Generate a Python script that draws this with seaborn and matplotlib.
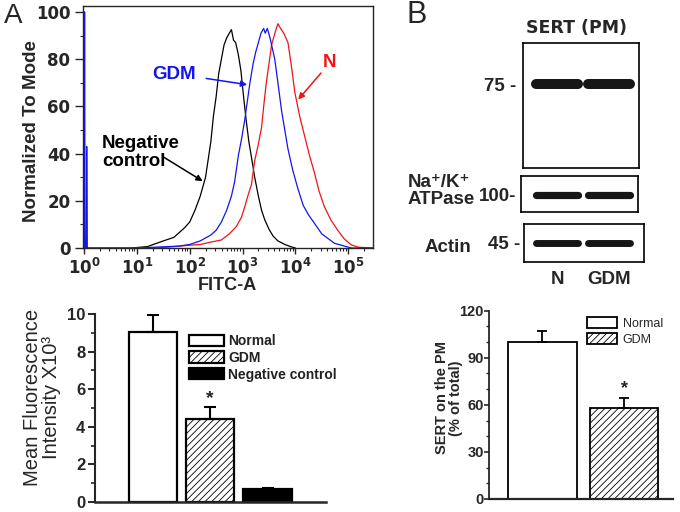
import numpy as np
import pandas as pd
import matplotlib
matplotlib.use("Agg")
import matplotlib.pyplot as plt
from matplotlib import font_manager
from matplotlib.ticker import MultipleLocator, NullFormatter
import seaborn as sns


# ── Data ──────────────────────────────────────────────────────────────────────

# Panel A, flow cytometry histograms: log10(FITC-A) and % of mode
neg_log = [0.90, 1.20, 1.50, 1.70, 1.90, 2.00, 2.10, 2.20, 2.30, 2.40, 2.45, 2.50,
           2.55, 2.60, 2.65, 2.70, 2.75, 2.79, 2.83, 2.87, 2.92, 2.97, 3.02, 3.07,
           3.12, 3.18, 3.23, 3.30, 3.36, 3.42, 3.50, 3.58, 3.67, 3.80, 3.92, 4.00]
neg_pct = [0.0, 0.6, 3.0, 4.5, 8.5, 11, 16, 22, 30, 45, 56, 64,
           74, 80, 86, 89, 91, 92.5, 88, 87, 82, 75, 64, 54,
           45, 37, 30, 22, 16, 12, 8, 5, 3, 1.5, 0.5, 0.0]

gdm_log = [0.00, 0.01, 0.02, 0.045, 0.05, 0.06, 1.00, 1.50, 1.80, 2.00, 2.20, 2.40,
           2.50, 2.60, 2.70, 2.79, 2.85, 2.92, 2.98, 3.04, 3.09, 3.14, 3.20, 3.25,
           3.30, 3.35, 3.40, 3.43, 3.47, 3.52, 3.57, 3.61, 3.67, 3.74, 3.80, 3.86,
           3.95, 4.05, 4.15, 4.25, 4.36, 4.50, 4.62, 4.74, 4.90, 5.06, 5.47]
gdm_pct = [0, 100, 0, 0, 43, 0, 0, 0.5, 0.8, 1.5, 3, 5.5,
           7.5, 11, 16, 22, 28, 39, 46, 54, 62, 70, 78, 83,
           87, 91, 93, 91, 93, 89, 84, 80, 70, 58, 50, 42,
           33, 25, 18, 14, 10.5, 6, 4, 2, 1, 0, 0]

n_log = [0.00, 0.01, 0.03, 1.30, 1.60, 1.90, 2.20, 2.40, 2.60, 2.75, 2.88, 2.98,
         3.05, 3.10, 3.17, 3.23, 3.30, 3.36, 3.41, 3.45, 3.50, 3.55, 3.60, 3.64,
         3.67, 3.72, 3.78, 3.86, 3.92, 3.99, 4.08, 4.18, 4.27, 4.36, 4.45, 4.55,
         4.67, 4.80, 4.92, 5.06, 5.20, 5.47]
n_pct = [0, 8, 0, 0, 0.4, 1, 1.5, 2.5, 3.4, 6, 9, 13,
         18, 22, 27, 37, 44, 51, 62, 70, 78, 86, 90, 93,
         95, 93, 91, 87, 78, 66, 56, 47, 39, 32, 24, 17.5,
         12, 7.6, 4, 1.3, 0.3, 0]

fitc_decades = [0, 1, 2, 3, 4, 5]
mode_ticks = [0, 20, 40, 60, 80, 100]

# Panel A, mean fluorescence intensity (x10^3)
mfi_groups = ["Normal", "GDM", "Negative control"]
mfi_mean = [9.05, 4.42, 0.67]
mfi_sem = [0.90, 0.65, 0.05]

# Panel B, western blots and SERT on the plasma membrane
blot_lanes = ["N", "GDM"]
blot_names = ["SERT (PM)", "Na\u207a/K\u207a\nATPase", "Actin"]
blot_kda = ["75 -", "100-", "45 -"]

sert_groups = ["Normal", "GDM"]
sert_mean = [100.0, 57.8]
sert_sem = [7.3, 6.8]


# ── Style ─────────────────────────────────────────────────────────────────────

W, H = 680, 512
sns.set_style("ticks")
plt.rcParams["font.family"] = ["Liberation Sans", "DejaVu Sans"]
plt.rcParams["hatch.linewidth"] = 0.6
plt.rcParams["axes.linewidth"] = 1.0

_names = {f.name for f in font_manager.fontManager.ttflist}
NARROW = "Liberation Sans Narrow" if "Liberation Sans Narrow" in _names else "Liberation Sans"

BLUE = "#1414f0"
RED = "#f01414"


def px_axes(fig, x0, y0, x1, y1):
    """Axes placed by pixel box (top-left origin)."""
    return fig.add_axes([x0 / W, 1 - y1 / H, (x1 - x0) / W, (y1 - y0) / H])


def px_text(fig, x, y, s, **kw):
    kw.setdefault("ha", "center")
    kw.setdefault("va", "center")
    return fig.text(x / W, 1 - y / H, s, **kw)


fig = plt.figure(figsize=(W / 100, H / 100), dpi=100)


# ── A: histogram ──────────────────────────────────────────────────────────────

ax = px_axes(fig, 83, 6, 373, 248)
ax.set_xscale("log")
for logs, vals, col in [(neg_log, neg_pct, "black"),
                        (n_log, n_pct, RED),
                        (gdm_log, gdm_pct, BLUE)]:
    sns.lineplot(x=10.0 ** np.array(logs), y=vals, color=col, lw=0.9,
                 estimator=None, sort=False, ax=ax)
ax.set_xlim(10 ** -0.02, 10 ** 5.47)
ax.set_ylim(0, 102.5)
ax.set_xticks([10.0 ** d for d in fitc_decades])
ax.set_xticklabels([r"$\mathbf{10^{%d}}$" % d for d in fitc_decades], fontsize=12)
ax.xaxis.set_minor_formatter(NullFormatter())
ax.set_yticks(mode_ticks)
ax.set_yticklabels([str(v) for v in mode_ticks], fontsize=12,
                   fontweight="bold", family="DejaVu Sans")
ax.yaxis.set_minor_locator(MultipleLocator(10))
ax.tick_params(axis="x", which="major", length=4.5, width=1, pad=2)
ax.tick_params(axis="x", which="minor", length=2.5, width=0.8)
ax.tick_params(axis="y", which="major", length=6, width=1, pad=3)
ax.tick_params(axis="y", which="minor", length=2.5, width=0.8)
for sp in ax.spines.values():
    sp.set_linewidth(1.0)

ax.annotate("", xy=(10 ** 3.14, 69), xytext=(10 ** 2.26, 72),
            arrowprops=dict(arrowstyle="-|>", color=BLUE, lw=1.1, mutation_scale=9))
ax.annotate("", xy=(10 ** 4.02, 62), xytext=(10 ** 4.52, 75),
            arrowprops=dict(arrowstyle="-|>", color=RED, lw=1.1, mutation_scale=9))
ax.annotate("", xy=(10 ** 2.29, 27.7), xytext=(10 ** 1.47, 39),
            arrowprops=dict(arrowstyle="-|>", color="black", lw=1.1, mutation_scale=9))
ax.text(10 ** 1.71, 73.3, "GDM", color=BLUE, fontsize=13.5, fontweight="bold",
        ha="center", va="center")
ax.text(10 ** 4.64, 78.4, "N", color=RED, fontsize=13.5, fontweight="bold",
        ha="center", va="center")
ax.text(10 ** 0.34, 40.5, "Negative\ncontrol", color="black", fontsize=13.5,
        fontweight="bold", ha="left", va="center", linespacing=1.05)

px_text(fig, 32, 131, "Normalized To Mode", rotation=90, fontsize=13.5, fontweight="bold")
px_text(fig, 227, 286, "FITC-A", fontsize=13, fontweight="bold")


# ── A: mean fluorescence bars ─────────────────────────────────────────────────

ax = px_axes(fig, 95, 314, 326, 502)
df = pd.DataFrame({"group": mfi_groups, "mean": mfi_mean})
sns.barplot(data=df, x="group", y="mean", ax=ax, width=0.84, errorbar=None,
            color="white", edgecolor="black", linewidth=1.6)
bars = ax.patches[:3]
bars[0].set_facecolor("white")
bars[1].set_facecolor("white")
bars[1].set_hatch("/////")
bars[2].set_facecolor("black")
ax.errorbar(range(3), mfi_mean, yerr=[np.zeros(3), mfi_sem], fmt="none",
            ecolor="black", elinewidth=1.5, capsize=4, capthick=1.5)
ax.text(1, mfi_mean[1] + mfi_sem[1] + 0.45, "*", ha="center", va="center",
        fontsize=14, fontweight="bold")
ax.set_xlim(-1.01, 3.02)
ax.set_ylim(0, 10)
ax.set_xticks([])
ax.set_xlabel("")
ax.set_ylabel("")
ax.yaxis.set_major_locator(MultipleLocator(2))
ax.yaxis.set_minor_locator(MultipleLocator(1))
ax.tick_params(axis="y", which="major", length=5, width=1.4, pad=2, labelsize=12)
ax.tick_params(axis="y", which="minor", length=3, width=1.2)
for lbl in ax.get_yticklabels():
    lbl.set_fontweight("bold")
sns.despine(ax=ax)
ax.spines["left"].set_linewidth(1.5)
ax.spines["bottom"].set_linewidth(1.8)

fs = 10
fs_px = fs * 100 / 72
ax.legend(bars, mfi_groups, loc="upper left", bbox_to_anchor=(189 / W, 1 - 334 / H),
          bbox_transform=fig.transFigure, frameon=False, borderpad=0, borderaxespad=0,
          handlelength=35 / fs_px, handleheight=12 / fs_px, handletextpad=0.3,
          labelspacing=0.2, prop=dict(size=fs, weight="bold"), labelcolor="#222222")

px_text(fig, 42, 397, "Mean Fluorescence\nIntensity X10\u00b3", rotation=90,
        fontsize=14.5, linespacing=1.0)


# ── B: western blots ──────────────────────────────────────────────────────────

lane_x0, lane_dx = 557, 52          # pixel centre of lane N, lane spacing
blot_boxes = [(522.7, 43.3, 639.3, 168.3),
              (520.7, 175.7, 638.3, 212.3),
              (524.0, 224.0, 644.0, 261.7)]
band_frac = [0.674, 0.473, 0.504]
band_width = [7.2, 5.2, 5.0]

for i, (box, yb, lw) in enumerate(zip(blot_boxes, band_frac, band_width)):
    x0, y0, x1, y1 = box
    bax = px_axes(fig, *box)
    for j, lane in enumerate(blot_lanes):
        bax.plot([j - 0.40, j + 0.40], [yb, yb], color="#161616", lw=lw,
                 solid_capstyle="round")
    bax.set_xlim((x0 - lane_x0) / lane_dx, (x1 - lane_x0) / lane_dx)
    bax.set_ylim(0, 1)
    bax.set_yticks([yb])
    bax.set_yticklabels([blot_kda[i]], fontsize=13.5, fontweight="bold")
    bax.tick_params(axis="y", length=0, pad=3 if i else 5)
    if i == len(blot_boxes) - 1:
        bax.set_xticks(range(len(blot_lanes)))
        bax.set_xticklabels(blot_lanes, fontsize=13.5, fontweight="bold")
        bax.tick_params(axis="x", length=0, pad=7)
    else:
        bax.set_xticks([])
    for sp in bax.spines.values():
        sp.set_visible(True)
        sp.set_linewidth(1.2)
        sp.set_color("black")

px_text(fig, 577, 28, blot_names[0], fontsize=12.5, fontweight="bold",
        family=["DejaVu Sans"])
px_text(fig, 408, 191, blot_names[1], ha="left", fontsize=13.5, fontweight="bold",
        linespacing=1.0)
px_text(fig, 425, 247, blot_names[2], ha="left", fontsize=13.5, fontweight="bold")


# ── B: SERT on the PM bars ────────────────────────────────────────────────────

ax = px_axes(fig, 489.3, 310.7, 673, 499)
df = pd.DataFrame({"group": sert_groups, "mean": sert_mean})
sns.barplot(data=df, x="group", y="mean", ax=ax, width=0.837, errorbar=None,
            color="white", edgecolor="black", linewidth=1.3)
bars = ax.patches[:2]
bars[0].set_facecolor("white")
bars[1].set_facecolor("white")
bars[1].set_hatch("/////")
ax.errorbar(range(2), sert_mean, yerr=[np.zeros(2), sert_sem], fmt="none",
            ecolor="black", elinewidth=1.3, capsize=3.5, capthick=1.3)
ax.text(1, sert_mean[1] + sert_sem[1] + 6, "*", ha="center", va="center",
        fontsize=13, fontweight="bold")
ax.set_xlim(-0.651, 1.597)
ax.set_ylim(0, 120)
ax.set_xticks([])
ax.set_xlabel("")
ax.set_ylabel("")
ax.yaxis.set_major_locator(MultipleLocator(30))
ax.yaxis.set_minor_locator(MultipleLocator(10))
ax.tick_params(axis="y", which="major", length=3.5, width=1.2, pad=0.5, labelsize=10.5)
ax.tick_params(axis="y", which="minor", length=2, width=1.0)
for lbl in ax.get_yticklabels():
    lbl.set_fontweight("bold")
    lbl.set_family([NARROW, "DejaVu Sans"])
sns.despine(ax=ax)
ax.spines["left"].set_linewidth(1.3)
ax.spines["bottom"].set_linewidth(1.6)

fs = 10.5 if NARROW != "Liberation Sans" else 9
fs_px = fs * 100 / 72
ax.legend(bars, sert_groups, loc="upper left", bbox_to_anchor=(587 / W, 1 - 317 / H),
          bbox_transform=fig.transFigure, frameon=False, borderpad=0, borderaxespad=0,
          handlelength=30 / fs_px, handleheight=12 / fs_px, handletextpad=0.45,
          labelspacing=0.3, prop=dict(size=fs, family=[NARROW, "DejaVu Sans"]))

px_text(fig, 449, 398, "SERT on the PM\n(% of total)", rotation=90, fontsize=10.5,
        fontweight="bold", family=[NARROW, "DejaVu Sans"], linespacing=0.95)


# ── Panel letters ─────────────────────────────────────────────────────────────

px_text(fig, 13, 16, "A", fontsize=20)
px_text(fig, 417, 15, "B", fontsize=22)

fig.savefig("out.png", dpi=100)
